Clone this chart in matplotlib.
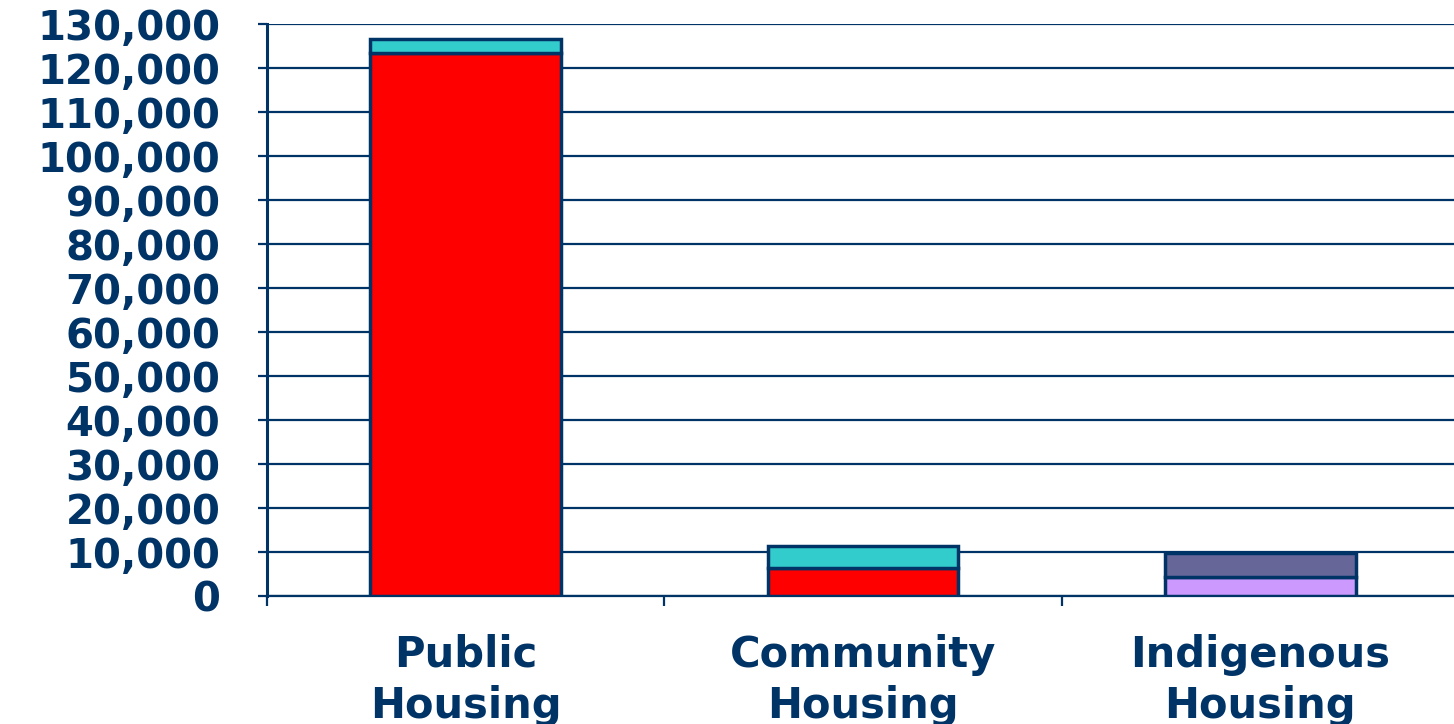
import numpy as np
import matplotlib.pyplot as plt

# data
categories = ["Public\nHousing", "Community\nHousing", "Indigenous\nHousing"]
lower_vals = [123400, 6400, 4300]
upper_vals = [3200, 5000, 5500]
lower_colors = ["#FF0000", "#FF0000", "#CC99FF"]
upper_colors = ["#33CCCC", "#33CCCC", "#666699"]
yticks = np.arange(0, 130001, 10000)

navy = "#003366"

fig = plt.figure(figsize=(14.54, 7.24), dpi=100)
ax = fig.add_axes([267/1454, 1 - 596/724, 1192/1454, 572/724])

x = np.arange(len(categories))
ax.bar(x, lower_vals, width=0.48, color=lower_colors, edgecolor=navy, linewidth=2.5, zorder=3)
ax.bar(x, upper_vals, width=0.48, bottom=lower_vals, color=upper_colors,
       edgecolor=navy, linewidth=2.5, zorder=3)

ax.set_xlim(-0.5, 2.5)
ax.set_ylim(0, 130000)

ax.set_yticks(yticks)
ax.set_yticklabels([f"{v:,}" for v in yticks])
ax.yaxis.grid(True, color=navy, linewidth=1.6)
ax.set_axisbelow(True)

# boundary ticks on the x axis, labels at the centres
ax.set_xticks([-0.5, 0.5, 1.5, 2.5])
ax.set_xticklabels([])
ax.set_xticks(x, minor=True)
ax.set_xticklabels(categories, minor=True)
ax.tick_params(axis="x", which="major", length=7, width=1.6, color=navy, direction="out")
ax.tick_params(axis="x", which="minor", length=0, pad=27)
ax.tick_params(axis="y", length=6.5, width=1.6, color=navy, pad=27)

for lab in ax.get_yticklabels():
    lab.set_fontsize(29)
    lab.set_fontweight("bold")
    lab.set_color(navy)
for lab in ax.get_xticklabels(minor=True):
    lab.set_fontsize(30)
    lab.set_fontweight("bold")
    lab.set_color(navy)
    lab.set_linespacing(1.3)

for s in ["top", "right"]:
    ax.spines[s].set_visible(False)
ax.spines["left"].set_color(navy)
ax.spines["left"].set_linewidth(2.2)
ax.spines["bottom"].set_color(navy)
ax.spines["bottom"].set_linewidth(1.6)

fig.savefig("out.png", dpi=100)
